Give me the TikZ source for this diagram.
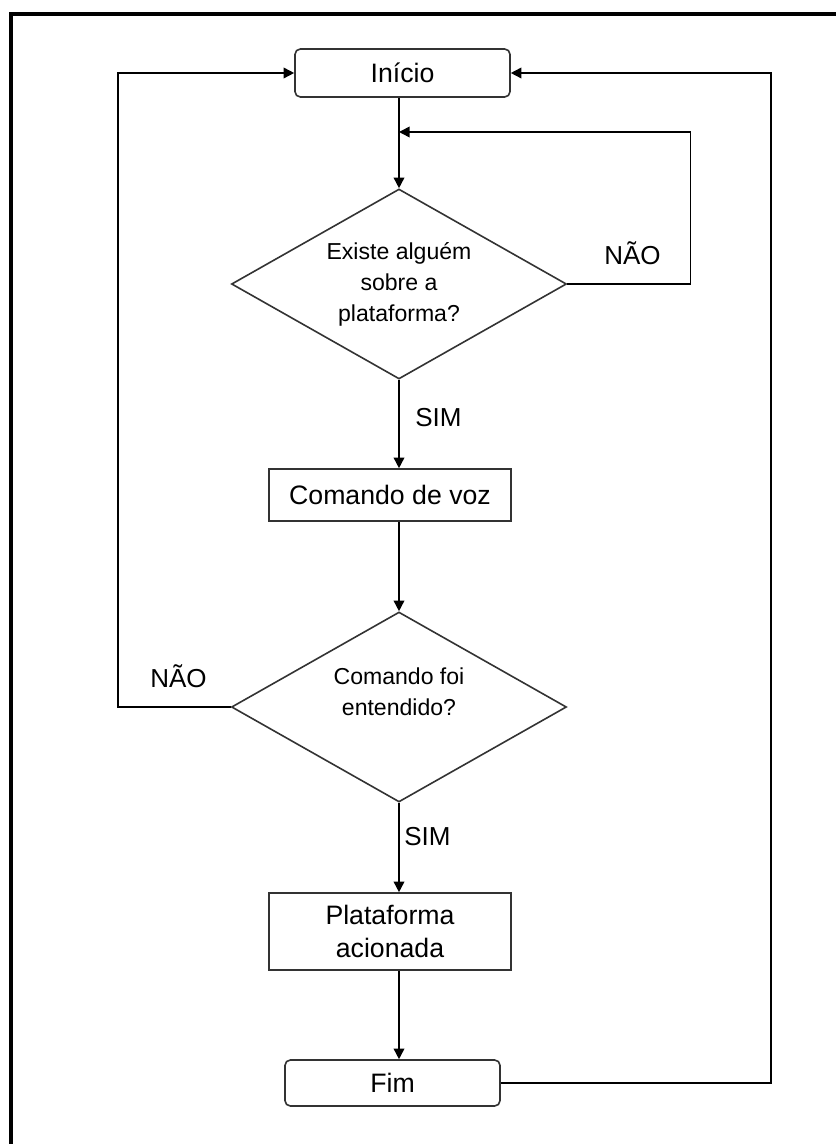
\documentclass[tikz,border=0pt]{standalone}
\usepackage{fontspec}
\setmainfont{Liberation Sans}
\usetikzlibrary{shapes.geometric,arrows.meta}
\begin{document}
\begin{tikzpicture}[x=0.75pt,y=-0.75pt,
  box/.style={draw=black!80,line width=1.2pt,fill=white,inner sep=0pt,align=center,font=\fontsize{20}{24.75}\selectfont},
  term/.style={box,rounded corners=4pt,minimum width=161.25pt,minimum height=36pt},
  proc/.style={box,minimum width=181.5pt},
  decide/.style={diamond,draw=black!80,line width=1.2pt,inner sep=0pt,aspect=1.76,minimum width=251.25pt,minimum height=142.5pt,align=center,font=\fontsize{17.3}{23.25}\selectfont},
  lbl/.style={inner sep=0pt,anchor=base,font=\fontsize{19.5}{24}\selectfont},
  arr/.style={line width=1.2pt,-{Triangle[length=8pt,width=8pt]}}]
\useasboundingbox (0,0) rectangle (836,1144);
\draw[line width=3pt] (11,1144) -- (11,14) -- (836,14);

\node[term] (inicio) at (402.5,73) {Início};
\node[decide] (d1) at (399,284) {Existe alguém\\sobre a\\plataforma?};
\node[proc,minimum height=39pt] (comando) at (390,495) {Comando de voz};
\node[decide] (d2) at (399,707) {Comando foi\\entendido?\\\mbox{}};
\node[proc,minimum height=57.75pt] (plat) at (390,931.5) {Plataforma\\acionada};
\node[term,minimum height=34.5pt] (fim) at (392.5,1083) {Fim};

\coordinate (j1) at (399,132);

\draw[arr] (inicio.south -| d1.north) -- (d1.north);
\draw[arr] (d1.east) -- ++(123,0) |- (j1);
\draw[arr] (d1.south) -- (d1.south |- comando.north);
\draw[arr] (comando.south -| d2.north) -- (d2.north);
\draw[arr] (d2.west) -- ++(-113,0) |- (inicio.west);
\draw[arr] (d2.south) -- (d2.south |- plat.north);
\draw[arr] (plat.south -| d2.south) -- (d2.south |- fim.north);
\draw[arr] (fim.east) -- ++(270,0) |- (inicio.east);

\node[lbl] (nao1) at (632.5,265) {NÃO};
\node[lbl] (sim1) at (438.5,426) {SIM};
\node[lbl] (nao2) at (178.5,687) {NÃO};
\node[lbl] (sim2) at (427.5,845) {SIM};
\end{tikzpicture}
\end{document}
